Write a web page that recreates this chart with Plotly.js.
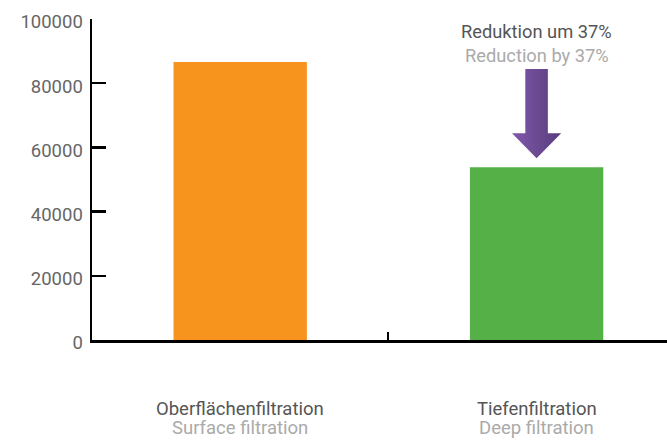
<!DOCTYPE html>
<html>
<head>
<meta charset="utf-8">
<script src="https://cdn.plot.ly/plotly-3.0.1.min.js"></script>
<style>html,body{margin:0;padding:0;background:#fff;}#chart{width:667px;height:446px;}</style>
</head>
<body>
<div id="chart"></div>
<script>
// ---- data ----
const categoriesDe = ["Oberflächenfiltration", "Tiefenfiltration"];
const categoriesEn = ["Surface filtration", "Deep filtration"];
const values = [86600, 53800];
const yTickVals = [0, 20000, 40000, 60000, 80000, 100000];
const calloutDe = "Reduktion um 37%";
const calloutEn = "Reduction by 37%";

// ---- styling ----
const FONT = "Roboto, sans-serif";
const barColors = ["#F7941E", "#55B048"];
const xs = categoriesDe.map((_, i) => i);

// arrow geometry derived from the reduced bar position
const ax = xs[1];
const shaftHalf = 0.038, headHalf = 0.083;
const tipY = values[1] + 2800;
const headTopY = tipY + 7800;
const shaftTopY = headTopY + 20000;
const arrowX = [ax - shaftHalf, ax + shaftHalf, ax + shaftHalf, ax + headHalf, ax, ax - headHalf, ax - shaftHalf, ax - shaftHalf];
const arrowY = [shaftTopY, shaftTopY, headTopY, headTopY, tipY, headTopY, headTopY, shaftTopY];

const traces = [
  {
    type: "bar", x: xs, y: values, width: 0.45,
    marker: {color: barColors, line: {width: 0}},
    hoverinfo: "skip", showlegend: false
  },
  {
    type: "scatter", mode: "lines", x: arrowX, y: arrowY,
    fill: "toself", line: {width: 0, color: "rgba(0,0,0,0)"},
    fillcolor: "#6b4b93",
    fillgradient: {type: "horizontal", colorscale: [[0, "#8059aa"], [1, "#583c7c"]]},
    hoverinfo: "skip", showlegend: false
  }
];

const annotations = [];
xs.forEach((x, i) => {
  annotations.push({x: x, xref: "x", y: -0.215, yref: "paper", text: categoriesDe[i],
    showarrow: false, xanchor: "center", yanchor: "middle", borderpad: 0,
    font: {family: FONT, size: 18.5, color: "#555555"}});
  annotations.push({x: x, xref: "x", y: -0.274, yref: "paper", text: categoriesEn[i],
    showarrow: false, xanchor: "center", yanchor: "middle", borderpad: 0,
    font: {family: FONT, size: 18.5, color: "#aaaaaa"}});
});
annotations.push({x: ax, xref: "x", y: 96200, yref: "y", text: calloutDe, showarrow: false,
  xanchor: "center", yanchor: "middle", font: {family: FONT, size: 18.3, color: "#555555"}});
annotations.push({x: ax, xref: "x", y: 88600, yref: "y", text: calloutEn, showarrow: false,
  xanchor: "center", yanchor: "middle", font: {family: FONT, size: 18.3, color: "#aaaaaa"}});

const layout = {
  width: 667, height: 446,
  margin: {l: 92, r: 0, t: 19, b: 106, pad: 0},
  paper_bgcolor: "#ffffff", plot_bgcolor: "#ffffff",
  font: {family: FONT},
  showlegend: false,
  xaxis: {
    type: "linear", range: [-0.5, 1.44], fixedrange: true,
    showline: true, linecolor: "#000", linewidth: 2.5,
    ticks: "inside", tickvals: [0.5], ticklen: 8, tickwidth: 2, tickcolor: "#000",
    showticklabels: false, showgrid: false, zeroline: false
  },
  yaxis: {
    range: [0, 100000], fixedrange: true,
    showline: true, linecolor: "#000", linewidth: 2.5,
    ticks: "inside", tickvals: yTickVals, ticktext: yTickVals.map(String),
    ticklen: 14, tickwidth: 2.5, tickcolor: "#000",
    tickfont: {family: FONT, size: 18.5, color: "#666666"},
    ticklabelstandoff: 3, ticklabelshift: 3,
    showgrid: false, zeroline: false
  },
  annotations: annotations
};

Plotly.newPlot("chart", traces, layout, {staticPlot: true, displayModeBar: false});
</script>
</body>
</html>
